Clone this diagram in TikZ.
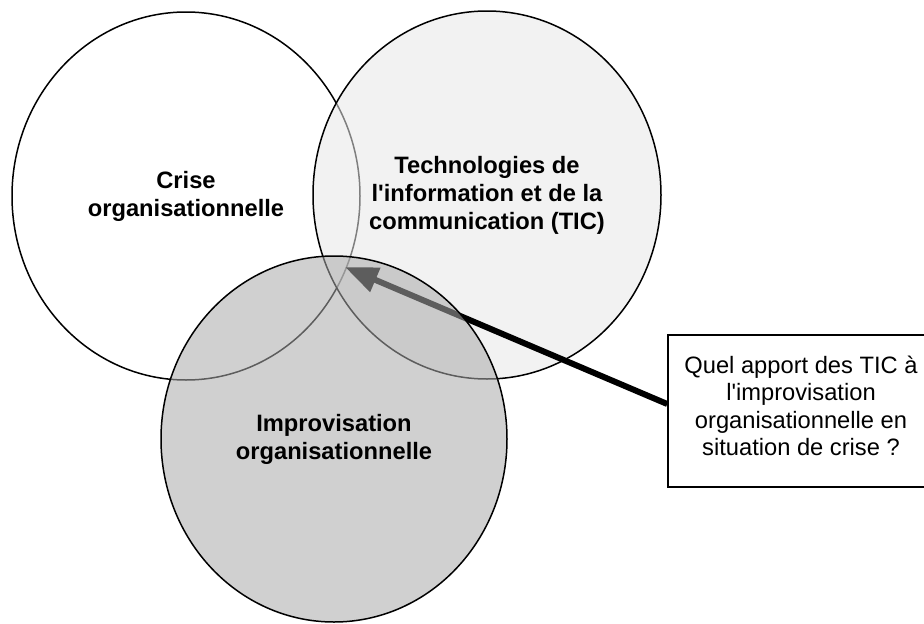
\documentclass[tikz,border=0pt]{standalone}
\usepackage{fontspec}
\setmainfont{Liberation Sans}
\usetikzlibrary{shapes.geometric,arrows.meta}
\definecolor{rfill}{gray}{0.906}
\definecolor{bfill}{gray}{0.667}
\begin{document}
\begin{tikzpicture}[x=1pt,y=-1pt,
  circ/.style={ellipse, draw=black, line width=1.5pt, inner sep=0pt,
    minimum width=348pt, minimum height=368pt, align=center,
    font=\fontsize{23.7pt}{28pt}\selectfont\bfseries, text opacity=1},
  qbox/.style={rectangle, draw=black, line width=1.5pt, inner sep=0pt,
    minimum width=266pt, minimum height=152pt},
  qtext/.style={inner sep=0pt, align=center,
    font=\fontsize{23.7pt}{27.5pt}\selectfont},
  bigarrow/.style={line width=6pt, -{Triangle[length=33pt,width=25pt]}}]
\useasboundingbox (0,0) rectangle (924,624);
\node[circ] (crise) at (186,196) {Crise\\organisationnelle};
\node[circ, fill=rfill, fill opacity=0.553] (tic) at (487,195)
  {Technologies de\\l\textquotesingle information et de la\\communication (TIC)};
\node[qbox] (q) at (801,411) {};
\node[qtext] (qt) at (801,406) {Quel apport des TIC à\\l\textquotesingle improvisation\\organisationnelle en\\situation de crise ?};
\coordinate (tip) at (345,267);
\draw[bigarrow] ([yshift=7pt]q.west) -- (tip);
\node[circ, fill=bfill, fill opacity=0.55, minimum width=346pt, minimum height=366pt] (impro) at (334,439)
  {\raisebox{0pt}{Improvisation}\\organisationnelle};
\end{tikzpicture}
\end{document}
